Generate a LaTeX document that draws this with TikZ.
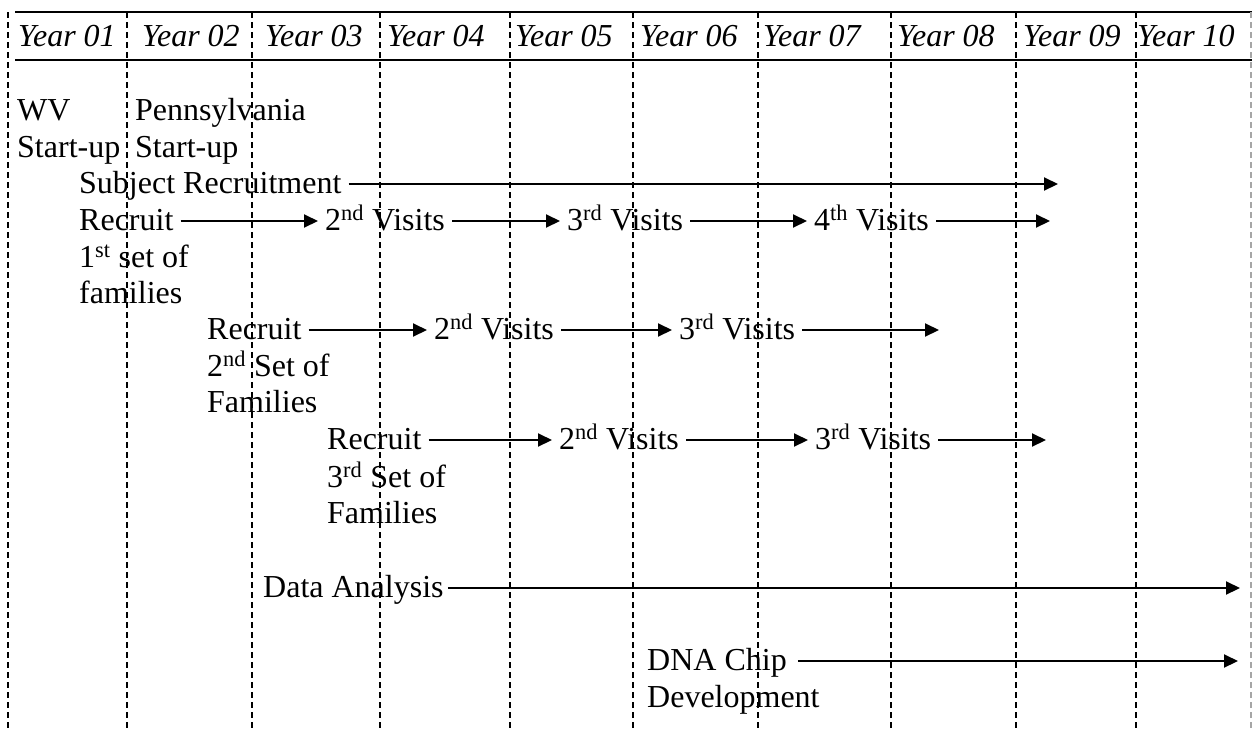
\documentclass[tikz,border=0pt]{standalone}
\usepackage{fontspec}
\setmainfont{Liberation Serif}
\usetikzlibrary{arrows.meta,positioning}

\begin{document}
\begin{tikzpicture}[x=1pt,y=-1pt,
    t/.style={anchor=base west,inner sep=0pt,text height=20pt,text depth=2pt,font=\fontsize{32}{36}\selectfont},
    yr/.style={t,font=\fontsize{32}{36}\selectfont\itshape},
    go/.style={-{Triangle[length=14pt,width=13pt]},line width=2pt,shorten <=7pt,shorten >=7pt},
    goend/.style={go,shorten >=0pt},
    sep/.style={dash pattern=on 6pt off 4pt,line width=1.5pt}]
    \useasboundingbox (0,0) rectangle (1252,731);

    % year grid
    \draw[line width=2pt] (15,12) -- (1252,12);
    \draw[line width=2pt] (15,60) -- (1252,60);
    \draw[sep] (8,12) -- (8,731);
    \draw[sep] (127,12) -- (127,731);
    \draw[sep] (252,12) -- (252,731);
    \draw[sep] (380,12) -- (380,731);
    \draw[sep] (510,12) -- (510,731);
    \draw[sep] (633,12) -- (633,731);
    \draw[sep] (758,12) -- (758,731);
    \draw[sep] (891,12) -- (891,731);
    \draw[sep] (1016,12) -- (1016,731);
    \draw[sep] (1136,12) -- (1136,731);
    \draw[sep,black!35] (1251,12) -- (1251,731);

    \node[yr] (y1) at (18,46) {Year 01};
    \node[yr] (y2) at (142,46) {Year 02};
    \node[yr] (y3) at (265,46) {Year 03};
    \node[yr] (y4) at (387,46) {Year 04};
    \node[yr] (y5) at (515,46) {Year 05};
    \node[yr] (y6) at (640,46) {Year 06};
    \node[yr] (y7) at (763,46) {Year 07};
    \node[yr] (y8) at (897,46) {Year 08};
    \node[yr] (y9) at (1023,46) {Year 09};
    \node[yr] (y10) at (1137,46) {Year 10};

    % start-up
    \node[t] (wv) at (17,120) {WV};
    \node[t] (wvs) at (17,157) {Start-up};
    \node[t] (pa) at (135,120) {Pennsylvania};
    \node[t] (pas) at (135,157) {Start-up};

    % recruitment
    \node[t] (sr) at (79,193) {Subject Recruitment};
    \coordinate (srend) at (1058,184);
    \draw[goend] (sr) -- (srend);

    \node[t] (r1) at (79,230) {Recruit};
    \node[t] (r1b) at (79,267) {1\textsuperscript{st} set of};
    \node[t] (r1c) at (79,303) {families};
    \node[t] (v12) at (325,230) {2\textsuperscript{nd} Visits};
    \node[t] (v13) at (567,230) {3\textsuperscript{rd} Visits};
    \node[t] (v14) at (814,230) {4\textsuperscript{th} Visits};
    \coordinate (r1end) at (1050,221);
    \draw[go] (r1) -- (v12);
    \draw[go] (v12) -- (v13);
    \draw[go] (v13) -- (v14);
    \draw[goend] (v14) -- (r1end);

    \node[t] (r2) at (207,339) {Recruit};
    \node[t] (r2b) at (207,376) {2\textsuperscript{nd} Set of};
    \node[t] (r2c) at (207,412) {Families};
    \node[t] (v22) at (434,339) {2\textsuperscript{nd} Visits};
    \node[t] (v23) at (679,339) {3\textsuperscript{rd} Visits};
    \coordinate (r2end) at (939,330);
    \draw[go] (r2) -- (v22);
    \draw[go] (v22) -- (v23);
    \draw[goend] (v23) -- (r2end);

    \node[t] (r3) at (327,449) {Recruit};
    \node[t] (r3b) at (327,487) {3\textsuperscript{rd} Set of};
    \node[t] (r3c) at (327,523) {Families};
    \node[t] (v32) at (559,449) {2\textsuperscript{nd} Visits};
    \node[t] (v33) at (815,449) {3\textsuperscript{rd} Visits};
    \coordinate (r3end) at (1046,440);
    \draw[go] (r3) -- (v32);
    \draw[go] (v32) -- (v33);
    \draw[goend] (v33) -- (r3end);

    % analysis
    \node[t] (da) at (263,597) {Data Analysis};
    \coordinate (daend) at (1240,588);
    \draw[goend,shorten <=4pt] (da) -- (daend);

    \node[t] (dna) at (647,670) {DNA Chip};
    \node[t] (dnab) at (647,707) {Development};
    \coordinate (dnaend) at (1238,661);
    \draw[goend,shorten <=11pt] (dna) -- (dnaend);
\end{tikzpicture}
\end{document}
